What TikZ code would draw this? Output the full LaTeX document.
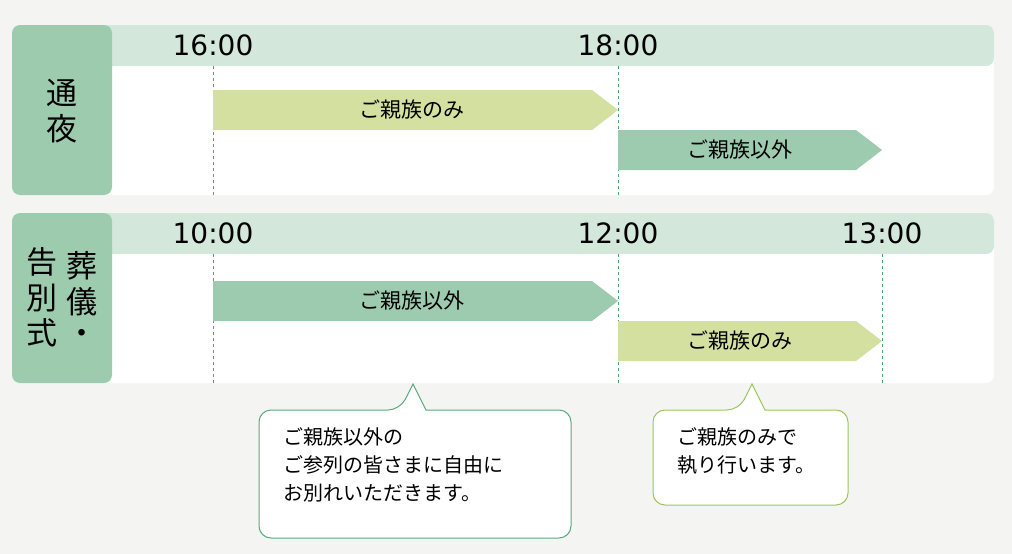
\documentclass[tikz,border=0pt]{standalone}
\usepackage{fontspec}
\setmainfont{Noto Sans CJK JP}
\newfontfamily\timefont{DejaVu Sans}
\usetikzlibrary{positioning}
\definecolor{bgc}{HTML}{F4F5F2}
\definecolor{labc}{HTML}{9CCBAE}
\definecolor{headc}{HTML}{D3E7DB}
\definecolor{lightc}{HTML}{D4E09F}
\definecolor{darkc}{HTML}{9DCBAF}
\definecolor{linec}{HTML}{4FA57A}
\definecolor{box1c}{HTML}{5AAA80}
\definecolor{box2c}{HTML}{9BC55F}
\begin{document}
\begin{tikzpicture}[x=1pt,y=-1pt,
  timetxt/.style={font=\timefont\fontsize{28}{28}\selectfont, text=black},
  bartxt/.style={font=\fontsize{21}{21}\selectfont},
  labtxt/.style={font=\fontsize{31}{31}\selectfont, inner sep=0pt},
  tick/.style={linec, dashed, line width=0.8pt},
  notetxt/.style={font=\fontsize{20}{28}\selectfont, align=left, anchor=north west}]
% background
\fill[bgc] (0,0) rectangle (1012,554);
\useasboundingbox (0,0) rectangle (1012,554);
% panels
\foreach \top in {25,213} {
  \fill[white, rounded corners=8] (12,\top) rectangle (994,\top+170);
  \fill[headc, rounded corners=8] (100,\top) rectangle (994,\top+41);
  \fill[white] (100,\top+41) rectangle (994,\top+60);
  \fill[labc, rounded corners=8] (12,\top) rectangle (112,\top+170);
}
% times
\node[timetxt] (t16) at (213,45) {16:00};
\node[timetxt] (t18) at (618,45) {18:00};
\node[timetxt] (t10) at (213,233) {10:00};
\node[timetxt] (t12) at (618,233) {12:00};
\node[timetxt] (t13) at (882,233) {13:00};
\draw[tick] (213,66) -- (213,195);
\draw[tick] (618,66) -- (618,195);
\draw[tick] (213,254) -- (213,383);
\draw[tick] (618,254) -- (618,383);
\draw[tick] (882,254) -- (882,383);
% bars
\fill[lightc] (213,90) -- (592,90) -- (618,110) -- (592,130) -- (213,130) -- cycle;
\node[bartxt] (b1) at (412,110) {ご親族のみ};
\fill[darkc] (618,130) -- (856,130) -- (882,150) -- (856,170) -- (618,170) -- cycle;
\node[bartxt] (b2) at (740,150) {ご親族以外};
\fill[darkc] (213,281) -- (592,281) -- (618,301) -- (592,321) -- (213,321) -- cycle;
\node[bartxt] (b3) at (412,301) {ご親族以外};
\fill[lightc] (618,321) -- (856,321) -- (882,341) -- (856,361) -- (618,361) -- cycle;
\node[bartxt] (b4) at (740,341) {ご親族のみ};
% labels
\node[labtxt] (l1) at (62,93) {通};
\node[labtxt] (l2) at (62,129) {夜};
\node[labtxt] (s1) at (82,266) {葬};
\node[labtxt] (s2) at (82,302) {儀};
\node[labtxt] (s3) at (82,337) {・};
\node[labtxt] (k1) at (42,262) {告};
\node[labtxt] (k2) at (42,298) {別};
\node[labtxt] (k3) at (42,333) {式};
% notes
\draw[box1c, line width=1pt, fill=white, rounded corners=12]
  (259,410) -- (400,410) [sharp corners] -- (413,384) -- (426,410) [rounded corners=12] -- (571,410) -- (571,538) -- (259,538) -- cycle;
\node[notetxt] (n1) at (280,424) {ご親族以外の\\ご参列の皆さまに自由に\\お別れいただきます。};
\draw[box2c, line width=1pt, fill=white, rounded corners=12]
  (653,410) -- (739,410) [sharp corners] -- (752,384) -- (765,410) [rounded corners=12] -- (848,410) -- (848,505) -- (653,505) -- cycle;
\node[notetxt] (n2) at (674,424) {ご親族のみで\\執り行います。};
\end{tikzpicture}
\end{document}
